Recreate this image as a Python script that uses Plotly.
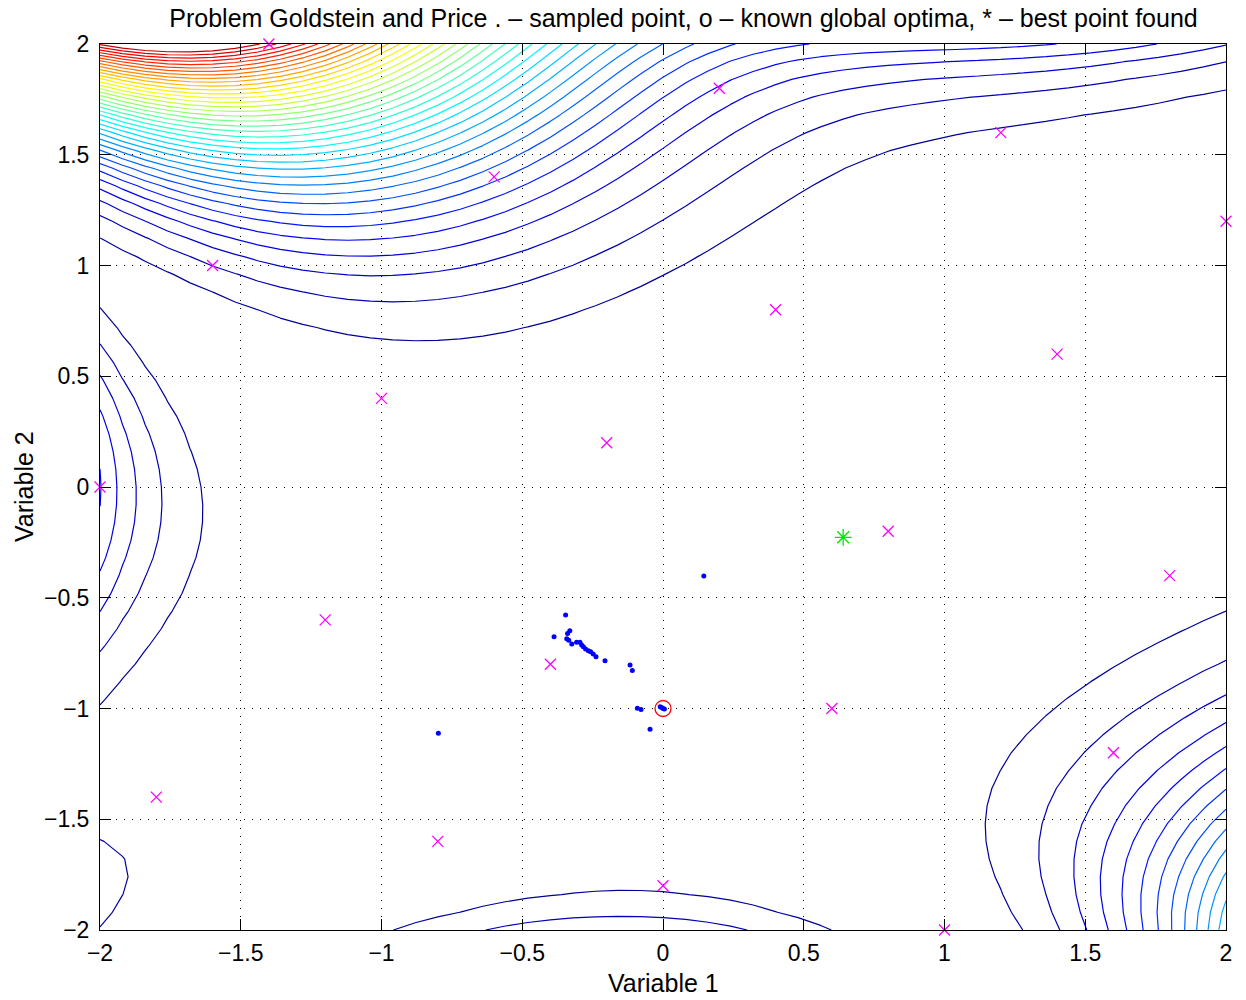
import numpy as np
import plotly.graph_objects as go

# ---- data ----
# Goldstein-Price test function evaluated on the 51 x 51 plotting grid
grid_x1 = np.linspace(-2, 2, 51)
grid_x2 = np.linspace(-2, 2, 51)
X1, X2 = np.meshgrid(grid_x1, grid_x2)
gp_a = 1 + (X1 + X2 + 1) ** 2 * (19 - 14 * X1 + 3 * X1 ** 2 - 14 * X2 + 6 * X1 * X2 + 3 * X2 ** 2)
gp_b = 30 + (2 * X1 - 3 * X2) ** 2 * (18 - 32 * X1 + 12 * X1 ** 2 + 48 * X2 - 36 * X1 * X2 + 27 * X2 ** 2)
gp_z = gp_a * gp_b

level_start = 25000
level_end = 950000
level_step = 25000

# initial sampled points (magenta x)
init_x = [-1.4, 0.2, 1.2, -0.6, 2.0, -1.6, 0.4, 1.4, -1.0, -0.2, -2.0,
          0.8, 1.8, -1.2, -0.4, 0.6, 1.6, -1.8, -0.8, 0.0, 1.0]
init_y = [2.0, 1.8, 1.6, 1.4, 1.2, 1.0, 0.8, 0.6, 0.4, 0.2, 0.0,
          -0.2, -0.4, -0.6, -0.8, -1.0, -1.2, -1.4, -1.6, -1.8, -2.0]

# sampled points (blue dots)
samp_x = [-0.346, -0.387, -0.331, -0.339, -0.342, -0.335, -0.324, -0.307, -0.295,
          -0.289, -0.283, -0.275, -0.265, -0.257, -0.248, -0.238, -0.206, -0.117,
          -0.109, -0.091, -0.078, -0.046, -0.010, -0.005, 0.000, 0.005, 0.145, -0.798]
samp_y = [-0.578, -0.676, -0.649, -0.661, -0.685, -0.692, -0.709, -0.701, -0.701,
          -0.713, -0.721, -0.731, -0.739, -0.744, -0.754, -0.766, -0.784, -0.804,
          -0.829, -0.999, -1.004, -1.094, -0.992, -0.996, -1.000, -1.002, -0.402, -1.112]

# known global optimum (red circle)
opt_x = [0.0]
opt_y = [-1.0]

# best point found (green star)
best_x = [0.640]
best_y = [-0.227]

title_text = "Problem Goldstein and Price . \u2013 sampled point, o \u2013 known global optima, * \u2013 best point found"
tick_vals = [-2, -1.5, -1, -0.5, 0, 0.5, 1, 1.5, 2]

# ---- MATLAB jet colours remapped onto the level range ----
def jet(t):
    t = min(max(t, 0.0), 1.0)
    r = min(max(min(4 * t - 1.5, -4 * t + 4.5), 0), 1)
    g = min(max(min(4 * t - 0.5, -4 * t + 3.5), 0), 1)
    b = min(max(min(4 * t + 0.5, -4 * t + 2.5), 0), 1)
    return "rgb(%d,%d,%d)" % (round(r * 255), round(g * 255), round(b * 255))

zmin = float(gp_z.min())
zmax = float(gp_z.max())
cscale = []
n_cs = 41
for i in range(n_cs):
    p = i / (n_cs - 1)
    lev = level_start + p * (level_end - level_start)
    cscale.append([p, jet((lev - zmin) / (zmax - zmin))])

FONT = "Liberation Sans, Arial, Helvetica, sans-serif"
TICK_SIZE = 23
LABEL_SIZE = 25

fig = go.Figure()
fig.add_trace(go.Contour(
    x=grid_x1, y=grid_x2, z=gp_z,
    contours=dict(coloring="lines", start=level_start, end=level_end + 1, size=level_step),
    colorscale=cscale, showscale=False,
    line=dict(width=1.2, smoothing=0),
    hoverinfo="skip",
))
fig.add_trace(go.Scatter(
    x=init_x, y=init_y, mode="markers",
    marker=dict(symbol="x-thin", size=11, color="rgb(255,0,255)",
                line=dict(width=1.3, color="rgb(255,0,255)")),
    cliponaxis=False, showlegend=False,
))
fig.add_trace(go.Scatter(
    x=samp_x, y=samp_y, mode="markers",
    marker=dict(symbol="circle", size=5, color="rgb(0,0,255)"),
    showlegend=False,
))
fig.add_trace(go.Scatter(
    x=opt_x, y=opt_y, mode="markers",
    marker=dict(symbol="circle-open", size=16, color="rgb(255,0,0)",
                line=dict(width=1.3, color="rgb(255,0,0)")),
    showlegend=False,
))
fig.add_trace(go.Scatter(
    x=best_x, y=best_y, mode="markers",
    marker=dict(symbol="asterisk-open", size=14, color="rgb(0,230,0)",
                line=dict(width=1.3, color="rgb(0,230,0)")),
    showlegend=False,
))

axis_common = dict(
    range=[-2, 2], tickvals=tick_vals, ticks="inside", ticklen=11, tickwidth=1,
    tickcolor="black", showline=True, linecolor="black", linewidth=1, mirror="ticks",
    showgrid=True, gridcolor="black", gridwidth=1, griddash="1px,7px",
    zeroline=False, tickfont=dict(family=FONT, size=TICK_SIZE, color="black"),
    fixedrange=True,
)

fig.update_layout(
    width=1246, height=1000,
    margin=dict(l=100, r=20, t=44, b=70),
    paper_bgcolor="white", plot_bgcolor="white",
    xaxis=dict(**axis_common, ticklabelstandoff=2),
    yaxis=dict(**axis_common, ticklabelstandoff=5),
    title=dict(text=title_text, x=683.5 / 1246, xanchor="center",
               y=1 - 18 / 1000, yanchor="middle",
               font=dict(family=FONT, size=LABEL_SIZE, color="black")),
    showlegend=False,
    annotations=[
        dict(text="Variable 1", x=0.5, xref="paper", y=-(983 - 930) / 886, yref="paper",
             xanchor="center", yanchor="middle", showarrow=False,
             font=dict(family=FONT, size=LABEL_SIZE, color="black")),
        dict(text="Variable 2", x=-(100 - 24) / 1126, xref="paper", y=0.5, yref="paper",
             xanchor="center", yanchor="middle", showarrow=False, textangle=-90,
             font=dict(family=FONT, size=LABEL_SIZE, color="black")),
    ],
)

fig.write_html("out.html", config={"displayModeBar": False},
               post_script="document.body.style.margin='0';")
